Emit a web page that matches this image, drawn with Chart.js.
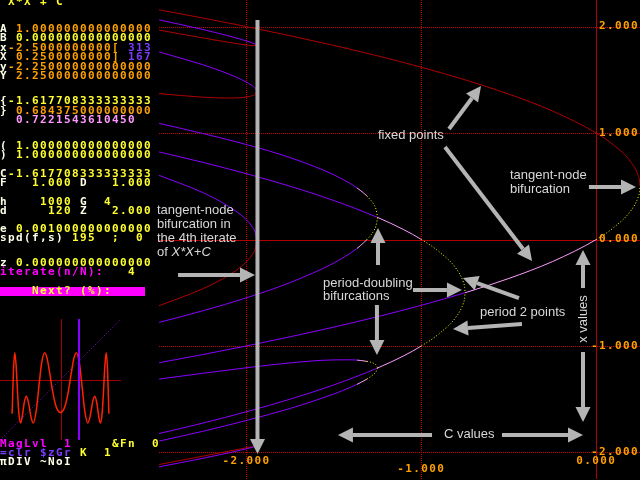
<!DOCTYPE html>
<html>
<head>
<meta charset="utf-8">
<script src="https://cdn.jsdelivr.net/npm/chart.js@4.4.0/dist/chart.umd.min.js"></script>
<style>
  html, body { margin: 0; padding: 0; background: #000; }
  #wrap { position: relative; width: 640px; height: 480px; overflow: hidden; background: #000; }
  #main { position: absolute; left: 0; top: 0; }
  #mini { position: absolute; left: 0; top: 319px; }
  .t { position: absolute; left: 0; font: bold 11px "DejaVu Sans Mono", monospace; letter-spacing: 1.38px;
       line-height: 10px; white-space: pre; color: #ffff30; }
  .w { color: #ffffe8; } .y { color: #ffff30; } .o { color: #ffa000; }
  .p { color: #7a3cff; } .k { color: #ff98ff; } .m { color: #ff00ff; }
  #bar { position: absolute; left: 0; top: 287px; width: 145px; height: 9px; background: #ff00ff; }
  .note { position: absolute; font: 13px "Liberation Sans", Arial, sans-serif; color: #d8d8d8;
          line-height: 14px; white-space: pre; }
</style>
</head>
<body>
<div id="wrap">
  <canvas id="main" width="640" height="480"></canvas>

  <div class="t" style="top:-3px"> X*X + C</div>
  <div class="t" style="top:24px"><span class="w">A</span><span class="o"> 1.000000000000000</span></div>
  <div class="t" style="top:33px"><span class="w">B</span> 0.000000000000000</div>
  <div class="t" style="top:42.5px"><span class="w">x</span><span class="o">-2.5000000000[ </span><span class="p">313</span></div>
  <div class="t" style="top:52px"><span class="w">X</span><span class="o"> 0.2500000000] </span><span class="p">167</span></div>
  <div class="t" style="top:61.5px"><span class="w">y</span><span class="o">-2.250000000000000</span></div>
  <div class="t" style="top:71px"><span class="w">Y</span><span class="o"> 2.250000000000000</span></div>
  <div class="t" style="top:96px"><span class="w">{</span>-1.617708333333333</div>
  <div class="t" style="top:105.5px"><span class="w">}</span><span class="o"> 0.684375000000000</span></div>
  <div class="t k" style="top:115px">  0.7221543610450</div>
  <div class="t" style="top:141px"><span class="w">(</span> 1.000000000000000</div>
  <div class="t" style="top:150px"><span class="w">)</span> 1.000000000000000</div>
  <div class="t" style="top:168.5px"><span class="w">C</span>-1.617708333333333</div>
  <div class="t" style="top:178px"><span class="w">F</span>   1.000 <span class="w">D</span>   1.000</div>
  <div class="t" style="top:196.5px"><span class="w">h</span>    1000 <span class="w">G</span>  4</div>
  <div class="t" style="top:205.5px"><span class="w">d</span>     120 <span class="w">Z</span>   2.000</div>
  <div class="t" style="top:224px"><span class="w">e</span> 0.001000000000000</div>
  <div class="t" style="top:233px"><span class="w">spd(f,s)</span> 195  ;  0</div>
  <div class="t" style="top:257.5px"><span class="w">z</span> 0.000000000000000</div>
  <div class="t" style="top:267px"><span class="m">iterate(n/N):</span>   4</div>
  <div id="bar"></div>
  <div class="t" style="top:286px">    Next? (%):</div>
  <canvas id="mini" width="121" height="121"></canvas>
  <div class="t" style="top:438.5px"><span class="m">MagLvl  1</span>     &amp;Fn  0</div>
  <div class="t" style="top:448px"><span class="p">=clr $zGr</span> K  1</div>
  <div class="t w" style="top:457px">πDIV ~NoI</div>

  <div class="note" style="left:378px; top:128px">fixed points</div>
  <div class="note" style="left:510px; top:168px; line-height:13.5px">tangent-node
bifurcation</div>
  <div class="note" style="left:157px; top:203px">tangent-node
bifurcation in
the 4th iterate
of <i>X*X+C</i></div>
  <div class="note" style="left:323px; top:276px; line-height:13px">period-doubling
bifurcations</div>
  <div class="note" style="left:480px; top:305px">period 2 points</div>
  <div class="note" style="left:444px; top:427px">C values</div>
  <div class="note" style="left:583px; top:319px; transform: translate(-50%, -50%) rotate(-90deg)">x values</div>
</div>

<script>
// Values: C along the bottom, x up the side

// period 1 (fixed points)
const cFixed = [-2.5, -2.25, -2.0, -1.75, -1.5, -1.25, -1.0, -0.75, -0.5, -0.25, 0, 0.1, 0.2, 0.24, 0.2475, 0.25];
const xFixedUpper = [2.158, 2.081, 2.0, 1.914, 1.823, 1.725, 1.618, 1.5, 1.366, 1.207, 1.0, 0.887, 0.724, 0.6, 0.55, 0.5];
const xFixedLower = [-1.158, -1.081, -1.0, -0.914, -0.823, -0.725, -0.618, -0.5, -0.366, -0.207, 0, 0.113, 0.276, 0.4, 0.45, 0.5];

// period 2
const cPeriod2 = [-2.5, -2.25, -2.0, -1.75, -1.5, -1.25, -1.1, -1.0, -0.9, -0.8, -0.76, -0.7525, -0.75];
const xPeriod2Upper = [0.823, 0.725, 0.618, 0.5, 0.366, 0.207, 0.092, 0, -0.113, -0.276, -0.4, -0.45, -0.5];
const xPeriod2Lower = [-1.823, -1.725, -1.618, -1.5, -1.366, -1.207, -1.092, -1.0, -0.887, -0.724, -0.6, -0.55, -0.5];

// period 4 born by period doubling
const cPeriod4 = [-2.5, -2.25, -2.0, -1.75, -1.5, -1.4, -1.368, -1.35, -1.311, -1.3, -1.27, -1.26, -1.25];
const xP4a = [1.091, 0.996, 0.892, 0.769, 0.608, 0.519, 0.484, 0.463, 0.408, 0.389, 0.324, 0.288, 0.207];
const xP4b = [-0.779, -0.670, -0.548, -0.404, -0.221, -0.122, -0.084, -0.060, -0.001, 0.019, 0.088, 0.125, 0.207];
const xP4c = [-1.311, -1.257, -1.205, -1.159, -1.131, -1.130, -1.133, -1.136, -1.145, -1.148, -1.165, -1.177, -1.207];
const xP4d = [-1.894, -1.802, -1.700, -1.587, -1.451, -1.385, -1.361, -1.346, -1.311, -1.300, -1.262, -1.245, -1.207];

// period 4 born at the tangent-node bifurcation
const cTangent = [-2.5, -2.25, -2.1, -2.03, -2.0, -1.97, -1.95, -1.9408];
const xT1 = [2.064, 1.973, 1.912, 1.880, 1.865, 1.849, 1.836, 1.828];
const xT2 = [1.967, 1.894, 1.852, 1.834, 1.827, 1.822, 1.821, 1.828];
const xT3 = [1.762, 1.642, 1.554, 1.503, 1.478, 1.448, 1.420, 1.392];
const xT4 = [1.371, 1.337, 1.329, 1.333, 1.338, 1.350, 1.364, 1.392];
const xT5 = [0.603, 0.441, 0.310, 0.229, 0.185, 0.126, 0.065, -0.012];
const xT6 = [-0.622, -0.463, -0.335, -0.254, -0.209, -0.150, -0.090, -0.012];
const xT7 = [-2.136, -2.056, -2.004, -1.977, -1.966, -1.954, -1.946, -1.943];
const xT8 = [-2.114, -2.036, -1.988, -1.966, -1.956, -1.948, -1.942, -1.943];

const cTicks = [-2, -1, 0];
const xTicks = [-2, -1, 0, 1, 2];

// small graph of the 4th iterate
const miniX = [-1.80, -1.78, -1.75, -1.70, -1.65, -1.60, -1.55, -1.485, -1.42, -1.35, -1.272, -1.20, -1.10, -1.015,
  -0.90, -0.80, -0.70, -0.588, -0.50, -0.40, -0.30, -0.20, -0.10, 0, 0.10, 0.20, 0.30, 0.40, 0.50, 0.588, 0.70,
  0.80, 0.90, 1.015, 1.10, 1.20, 1.272, 1.35, 1.42, 1.485, 1.55, 1.60, 1.65, 1.70, 1.75, 1.78, 1.80];
const miniY = [-1.270, -0.621, 0.334, 0.999, 0.514, -0.440, -1.241, -1.618, -1.358, -0.869, -0.619, -0.811, -1.378, -1.618,
  -1.147, -0.226, 0.626, 0.999, 0.796, 0.233, -0.397, -0.881, -1.152, -1.234, -1.152, -0.881, -0.397, 0.233, 0.796, 0.999, 0.626,
  -0.226, -1.147, -1.618, -1.378, -0.811, -0.619, -0.869, -1.358, -1.618, -1.241, -0.440, 0.514, 0.999, 0.334, -0.621, -1.270];
const miniMarker = 0.684375;

// colours
const yellow = '#ffff00', pink = '#ff9cff', purple = '#8a00ff', red = '#b00000';
const fixedZones = [[-0.75, purple], [0, pink], [Infinity, yellow]];
const period2Zones = [[-1.25, purple], [-1, pink], [Infinity, yellow]];
const period4Zones = [[-1.368, purple], [-1.311, pink], [Infinity, yellow]];

function zoneColor(zones, c) {
    for (const z of zones) {
        if (c < z[0]) return z[1];
    }
    return zones[zones.length - 1][1];
}

function branch(cs, xs, color, zones) {
    const ds = {
        data: cs.map((c, i) => ({ x: c, y: xs[i] })),
        showLine: true,
        pointRadius: 0,
        borderWidth: 1,
        borderColor: color,
        cubicInterpolationMode: 'monotone'
    };
    if (zones) {
        const mid = ctx => (ctx.p0.parsed.x + ctx.p1.parsed.x) / 2;
        ds.segment = {
            borderColor: ctx => zoneColor(zones, mid(ctx)),
            borderDash: ctx => zoneColor(zones, mid(ctx)) === yellow ? [1, 2] : []
        };
    }
    return ds;
}

// arrows [c0, x0, c1, x1] in chart units, tip at the second point
const arrows = [
    [-0.842, 1.038, -0.659, 1.442],
    [-0.865, 0.869, -0.367, -0.202],
    [-0.042, 0.493, 0.227, 0.493],
    [-2.391, -0.334, -1.951, -0.334],
    [-1.937, 2.062, -1.937, -2.015],
    [-1.248, -0.240, -1.248, 0.108],
    [-1.254, -0.615, -1.254, -1.085],
    [-1.048, -0.474, -0.768, -0.474],
    [-0.442, -0.550, -0.762, -0.362],
    [-0.425, -0.794, -0.819, -0.841],
    [-0.076, -0.456, -0.076, -0.099],
    [-0.076, -1.057, -0.076, -1.715],
    [-0.539, -1.837, -0.076, -1.837],
    [-0.939, -1.837, -1.477, -1.837]
];

function drawArrow(ctx, x0, y0, x1, y1) {
    const ang = Math.atan2(y1 - y0, x1 - x0);
    const len = 15, half = 7.5;
    const bx = x1 - len * Math.cos(ang), by = y1 - len * Math.sin(ang);
    ctx.beginPath();
    ctx.moveTo(x0, y0);
    ctx.lineTo(bx, by);
    ctx.stroke();
    ctx.beginPath();
    ctx.moveTo(x1, y1);
    ctx.lineTo(bx + half * Math.sin(ang), by - half * Math.cos(ang));
    ctx.lineTo(bx - half * Math.sin(ang), by + half * Math.cos(ang));
    ctx.closePath();
    ctx.fill();
}

const overlay = {
    id: 'overlay',
    beforeDatasetsDraw(chart) {
        const { ctx, chartArea: a, scales: { x, y } } = chart;
        ctx.save();
        ctx.lineWidth = 1;
        cTicks.forEach(v => {
            const px = Math.round(x.getPixelForValue(v)) + 0.5;
            ctx.strokeStyle = v === 0 ? '#b00000' : '#c80000';
            ctx.setLineDash(v === 0 ? [] : [1, 1]);
            ctx.beginPath();
            ctx.moveTo(px, a.top);
            ctx.lineTo(px, a.bottom);
            ctx.stroke();
        });
        xTicks.forEach(v => {
            const py = Math.round(y.getPixelForValue(v)) + 0.5;
            ctx.strokeStyle = v === 0 ? '#b00000' : '#c80000';
            ctx.setLineDash(v === 0 ? [] : [1, 1]);
            ctx.beginPath();
            ctx.moveTo(a.left, py);
            ctx.lineTo(a.right, py);
            ctx.stroke();
        });
        ctx.restore();
    },
    afterDatasetsDraw(chart) {
        const { ctx, chartArea: a, scales: { x, y } } = chart;
        ctx.save();
        ctx.strokeStyle = '#b4b4b4';
        ctx.fillStyle = '#b4b4b4';
        ctx.lineWidth = 4;
        arrows.forEach(([c0, v0, c1, v1]) => {
            drawArrow(ctx, x.getPixelForValue(c0), y.getPixelForValue(v0),
                      x.getPixelForValue(c1), y.getPixelForValue(v1));
        });

        // tick labels
        ctx.font = 'bold 11px "DejaVu Sans Mono", monospace';
        if ('letterSpacing' in ctx) ctx.letterSpacing = '1.38px';
        ctx.fillStyle = '#ffa000';
        ctx.textBaseline = 'middle';
        ctx.textAlign = 'right';
        xTicks.forEach(v => {
            ctx.fillText(v.toFixed(3), a.right - 1, y.getPixelForValue(v));
        });
        ctx.textAlign = 'center';
        cTicks.forEach((v, i) => {
            ctx.fillText(v.toFixed(3), x.getPixelForValue(v), a.bottom - (i % 2 ? 10 : 18));
        });
        ctx.restore();
    }
};

new Chart(document.getElementById('main'), {
    type: 'scatter',
    data: {
        datasets: [
            branch(cFixed, xFixedUpper, red),
            branch(cTangent, xT1, purple),
            branch(cTangent, xT2, red),
            branch(cTangent, xT3, purple),
            branch(cTangent, xT4, red),
            branch(cTangent, xT5, purple),
            branch(cTangent, xT6, red),
            branch(cTangent, xT7, purple),
            branch(cTangent, xT8, red),
            branch(cPeriod4, xP4a, purple, period4Zones),
            branch(cPeriod4, xP4b, purple, period4Zones),
            branch(cPeriod4, xP4c, purple, period4Zones),
            branch(cPeriod4, xP4d, purple, period4Zones),
            branch(cPeriod2, xPeriod2Upper, purple, period2Zones),
            branch(cPeriod2, xPeriod2Lower, purple, period2Zones),
            branch(cFixed, xFixedLower, purple, fixedZones)
        ]
    },
    options: {
        responsive: false,
        animation: false,
        devicePixelRatio: 1,
        layout: { padding: { left: 159, right: 0, top: 0, bottom: 1 } },
        plugins: { legend: { display: false }, tooltip: { enabled: false } },
        scales: {
            x: { type: 'linear', display: false, min: -2.5, max: 0.25 },
            y: { type: 'linear', display: false, min: -2.25, max: 2.25 }
        }
    },
    plugins: [overlay]
});

// guides for the small graph: diagonal, crosshair and the marker line
const miniGuides = {
    id: 'miniGuides',
    beforeDatasetsDraw(chart) {
        const { ctx, chartArea: a, scales: { x, y } } = chart;
        ctx.save();
        ctx.lineWidth = 1;
        ctx.strokeStyle = '#7010d8';
        ctx.setLineDash([1, 2]);
        ctx.beginPath();
        ctx.moveTo(x.getPixelForValue(x.min), y.getPixelForValue(x.min));
        ctx.lineTo(x.getPixelForValue(x.max), y.getPixelForValue(x.max));
        ctx.stroke();
        ctx.setLineDash([]);
        ctx.strokeStyle = '#a00000';
        const x0 = Math.round(x.getPixelForValue(0)) + 0.5;
        const y0 = Math.round(y.getPixelForValue(0)) + 0.5;
        ctx.beginPath();
        ctx.moveTo(x0, a.top); ctx.lineTo(x0, a.bottom);
        ctx.moveTo(a.left, y0); ctx.lineTo(a.right, y0);
        ctx.stroke();
        ctx.restore();
    },
    afterDatasetsDraw(chart) {
        const { ctx, chartArea: a, scales: { x } } = chart;
        ctx.save();
        ctx.strokeStyle = '#8a00ff';
        ctx.lineWidth = 2;
        const xm = Math.round(x.getPixelForValue(miniMarker));
        ctx.beginPath();
        ctx.moveTo(xm, a.top); ctx.lineTo(xm, a.bottom);
        ctx.stroke();
        ctx.restore();
    }
};

new Chart(document.getElementById('mini'), {
    type: 'scatter',
    data: {
        datasets: [{
            data: miniX.map((v, i) => ({ x: v, y: miniY[i] })),
            showLine: true,
            pointRadius: 0,
            borderWidth: 1.5,
            borderColor: '#ff2200',
            cubicInterpolationMode: 'monotone'
        }]
    },
    options: {
        responsive: false,
        animation: false,
        devicePixelRatio: 1,
        layout: { padding: 0 },
        plugins: { legend: { display: false }, tooltip: { enabled: false } },
        scales: {
            x: { type: 'linear', display: false, min: -2.25, max: 2.25 },
            y: { type: 'linear', display: false, min: -2.25, max: 2.25 }
        }
    },
    plugins: [miniGuides]
});
</script>
</body>
</html>
